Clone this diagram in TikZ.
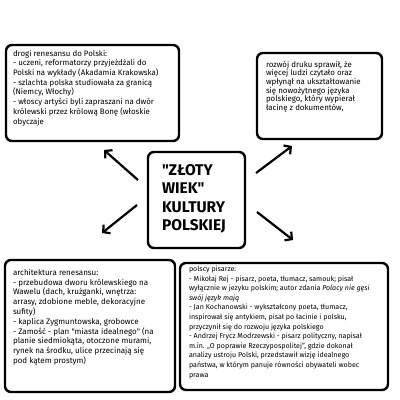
\documentclass[tikz,border=0pt]{standalone}
\usepackage{fontspec}
\setmainfont{Fira Sans}[Ligatures=TeXOff]
\usetikzlibrary{arrows.meta}

\tikzset{
  box/.style={draw, line width=2.4pt, rounded corners=6pt, fill=white, inner sep=0pt},
  txt/.style={anchor=north west, align=left, inner sep=0pt, font=\fontsize{7.9}{9.7}\selectfont},
  bigarrow/.style={line width=2.2pt, -{Straight Barb[length=5pt,width=11pt]}},
}

\begin{document}
\begin{tikzpicture}[x=1pt, y=-1pt]
  \useasboundingbox (0,0) rectangle (400,400);

  % boxes
  \node[box, minimum width=173pt, minimum height=96pt] (drogi) at (92.5,93) {};
  \node[box, minimum width=125pt, minimum height=86pt] (druk) at (319.5,96) {};
  \node[box, minimum width=97pt, minimum height=96pt] (zloty) at (196.5,200) {};
  \node[box, minimum width=170pt, minimum height=132pt] (arch) at (90,326) {};
  \node[box, minimum width=208pt, minimum height=127pt] (pisarze) at (284,326.5) {};

  % texts
  \node[txt] (drogiT) at ([shift={(8,6)}]drogi.north west) {drogi renesansu do Polski:\\
    - uczeni, reformatorzy przyjeżdżali do\\
    Polski na wykłady (Akadamia Krakowska)\\
    - szlachta polska studiowała za granicą\\
    (Niemcy, Włochy)\\
    - włoscy artyści byli zapraszani na dwór\\
    królewski przez królową Bonę (włoskie\\
    obyczaje};
  \node[txt, font=\fontsize{7.9}{8.6}\selectfont] (drukT) at ([shift={(10,9)}]druk.north west) {rozwój druku sprawił, że\\
    więcej ludzi czytało oraz\\
    wpłynął na ukształtowanie\\
    się nowożytnego języka\\
    polskiego, który wypierał\\
    łacinę z dokumentów,};
  \node[txt, font=\fontsize{15.5}{18.5}\selectfont\bfseries] (zlotyT) at ([shift={(15,13)}]zloty.north west) {"ZŁOTY\\
    WIEK"\\
    KULTURY\\
    POLSKIEJ};
  \node[txt, font=\fontsize{8}{9.8}\selectfont] (archT) at ([shift={(9,10)}]arch.north west) {architektura renesansu:\\
    - przebudowa dworu królewskiego na\\
    Wawelu (dach, krużganki, wnętrza:\\
    arrasy, zdobione meble, dekoracyjne\\
    sufity)\\
    - kaplica Zygmuntowska, grobowce\\
    - Zamość - plan "miasta idealnego" (na\\
    planie siedmiokąta, otoczone murami,\\
    rynek na środku, ulice przecinają się\\
    pod kątem prostym)};
  \node[txt, font=\fontsize{7.1}{9.6}\selectfont] (pisarzeT) at ([shift={(10,4)}]pisarze.north west) {polscy pisarze:\\
    - Mikołaj Rej - pisarz, poeta, tłumacz, samouk; pisał\\
    wyłącznie w jezyku polskim; autor zdania \textit{Polacy nie gęsi}\\
    \textit{swój język mają}\\
    - Jan Kochanowski - wykształcony poeta, tłumacz,\\
    inspirował się antykiem, pisał po łacinie i polsku,\\
    przyczynił się do rozwoju języka polskiego\\
    - Andrzej Frycz Modrzewski - pisarz polityczny, napisał\\
    m.in. „O poprawie Rzeczypospolitej”, gdzie dokonał\\
    analizy ustroju Polski, przedstawił wizję idealnego\\
    państwa, w którym panuje równości obywateli wobec\\
    prawa};

  % arrows
  \coordinate (nwA) at (138,180);
  \coordinate (nwB) at (104,150);
  \coordinate (neA) at (256,173);
  \coordinate (neB) at (292,146);
  \coordinate (swA) at (137,205);
  \coordinate (swB) at (102,233);
  \coordinate (seA) at (257,212);
  \coordinate (seB) at (293,240);
  \draw[bigarrow] (nwA) -- (nwB);
  \draw[bigarrow] (neA) -- (neB);
  \draw[bigarrow] (swA) -- (swB);
  \draw[bigarrow] (seA) -- (seB);
\end{tikzpicture}
\end{document}
